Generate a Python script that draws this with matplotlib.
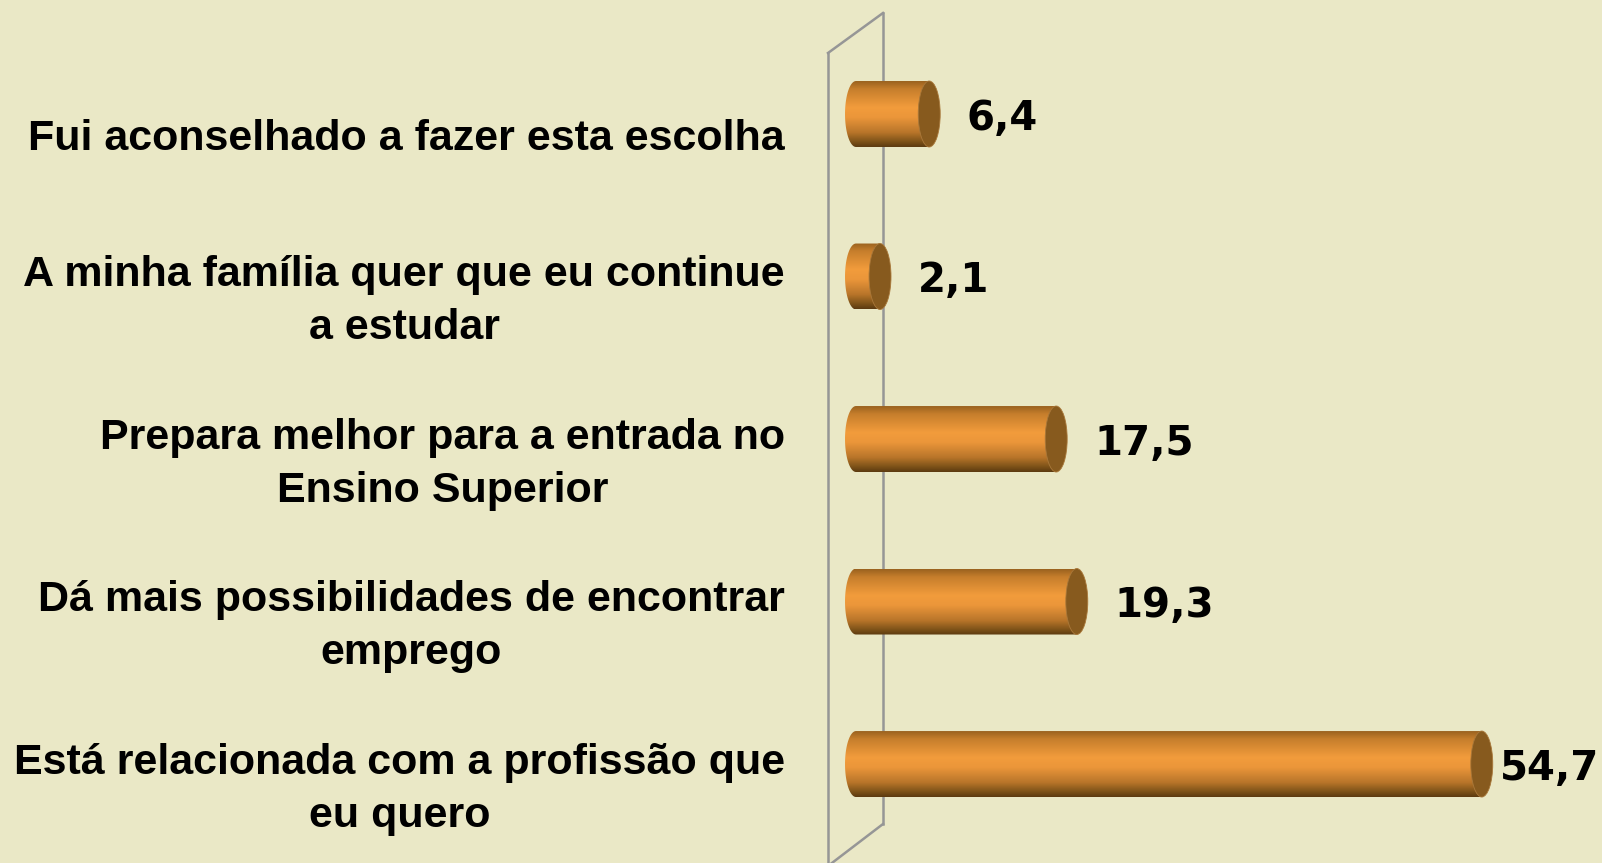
import numpy as np
import matplotlib.pyplot as plt
from matplotlib.path import Path
from matplotlib.patches import PathPatch, Ellipse
from matplotlib.colors import LinearSegmentedColormap
from matplotlib.transforms import blended_transform_factory

# Data
categories = [
    "Fui aconselhado a fazer esta escolha",
    "A minha família quer que eu continue\na estudar",
    "Prepara melhor para a entrada no\nEnsino Superior",
    "Dá mais possibilidades de encontrar\nemprego",
    "Está relacionada com a profissão que\neu quero",
]
values = [6.4, 2.1, 17.5, 19.3, 54.7]
value_labels = ["6,4", "2,1", "17,5", "19,3", "54,7"]

bg = '#EAE8C6'
W, H = 1602, 863

fig = plt.figure(figsize=(W / 100, H / 100), dpi=100, facecolor=bg)
ax = fig.add_axes([0, 0, 1, 1])
ax.set_facecolor(bg)
ax.axis('off')

# x: 0 sits at 856 px, 11.44 px per unit
xlim = (-856 / 11.44, (W - 856) / 11.44)
ylim = (4.609, -0.7015)
ax.set_xlim(*xlim)
ax.set_ylim(*ylim)

# 3D wall outline (figure coords, pixels from top-left)
def fpt(x, y):
    return x / W, 1 - y / H

wall = [((828, 53), (883, 13)), ((883, 13), (883, 824)),
        ((883, 824), (828, 866)), ((828, 53), (828, 866))]
for p0, p1 in wall:
    (x0, y0), (x1, y1) = fpt(*p0), fpt(*p1)
    ax.plot([x0, x1], [y0, y1], color='#969696', lw=1.8,
            transform=fig.transFigure, clip_on=False, zorder=1)

# cylinder gradient
cmap = LinearSegmentedColormap.from_list('cyl', [
    (0.0, '#9A621F'), (0.12, '#C67E2C'), (0.40, '#F29C3C'),
    (0.55, '#EB963A'), (0.78, '#B8752A'), (0.92, '#7D5218'), (1.0, '#5C3A10')])
grad = np.linspace(0, 1, 256).reshape(-1, 1)

a = 0.96   # cap half-width (data units)
b = 0.203  # half bar height (category units)

value_texts = []
for i, v in enumerate(values):
    yc = i
    t = np.linspace(np.pi / 2, 3 * np.pi / 2, 40)
    verts = [(0, yc - b), (v, yc - b), (v, yc + b), (0, yc + b)]
    verts += list(zip(a * np.cos(t), yc + b * np.sin(t)))
    verts.append((0, yc - b))
    codes = [Path.MOVETO] + [Path.LINETO] * (len(verts) - 2) + [Path.CLOSEPOLY]
    clip = PathPatch(Path(verts, codes), transform=ax.transData, fc='none', ec='none')
    ax.add_patch(clip)
    im = ax.imshow(grad, cmap=cmap, aspect='auto', extent=(-a, v, yc + b, yc - b),
                   zorder=3, interpolation='bilinear')
    im.set_clip_path(clip)
    cap = Ellipse((v, yc), 2 * a, 2 * b, fc='#875A1E', ec='#A9783A', lw=0.6, zorder=4)
    ax.add_patch(cap)
    txt = ax.text(v + 3.3, yc + 0.03, value_labels[i], ha='left', va='center',
                  fontsize=29, fontweight='bold', family='DejaVu Sans', color='black',
                  zorder=5)
    value_texts.append(txt)

trans = blended_transform_factory(fig.transFigure, ax.transData)
for i, lab in enumerate(categories):
    ax.text(785 / W, i + 0.155, lab, transform=trans, ha='right', va='center',
            multialignment='center', fontsize=31, fontweight='bold',
            family='Liberation Sans', color='black', linespacing=1.42, clip_on=False)

ax.set_xlim(*xlim)
ax.set_ylim(*ylim)

# keep value labels inside the picture
renderer = fig.canvas.get_renderer()
for txt in value_texts:
    bb = txt.get_window_extent(renderer)
    if bb.x1 > W - 3:
        txt.set_ha('right')
        txt.set_x(xlim[1] - 0.2)

plt.savefig('out.png', dpi=100, facecolor=bg)
